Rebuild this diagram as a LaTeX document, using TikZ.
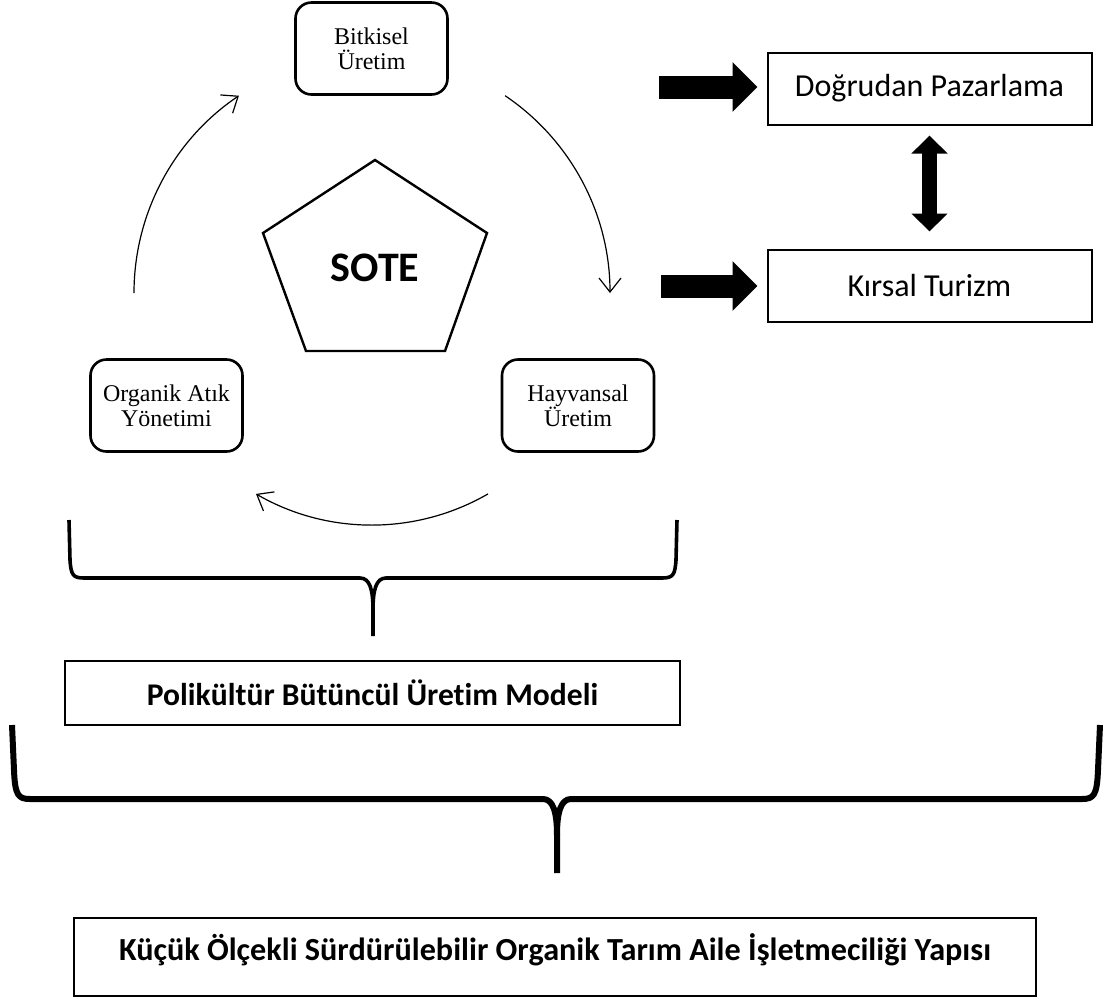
\documentclass[tikz,border=0pt]{standalone}
\usepackage{fontspec}
\setmainfont{Carlito}[Ligatures=NoCommon]
\newfontfamily\timesfont{Liberation Serif}
\usetikzlibrary{positioning}
\usetikzlibrary{arrows.meta}

\begin{document}
\begin{tikzpicture}[x=0.5pt,y=0.5pt,on grid,
	cyclebox/.style={draw,rounded corners=8pt,line width=1.3pt,minimum width=76pt,minimum height=46pt,inner sep=0pt,align=center,font=\timesfont\fontsize{12}{12.5}\selectfont},
	sidebox/.style={draw,line width=1pt,minimum width=162pt,minimum height=36pt,inner sep=0pt,font=\fontsize{16}{19}\selectfont},
	basebox/.style={draw,line width=1pt,inner sep=0pt,font=\bfseries\fontsize{15.8}{19}\selectfont},
	cyc/.style={line width=0.6pt,-{Straight Barb[length=7pt,width=11pt]}},
	bigarrow/.style={line width=11.5pt,-{Triangle[length=12.5pt,width=24pt]}},
	dblarrow/.style={line width=7.5pt,{Triangle[length=9pt,width=17.5pt]}-{Triangle[length=9pt,width=17.5pt]}},
	brace/.style={line width=#1,line join=round}]
		\useasboundingbox (0,0) rectangle (1105,-1003);
		
		\node[cyclebox] (bitki) at (371.5,-48.5) {Bitkisel\\Üretim};
		\node[cyclebox] (atik) at (166.5,-405.5) {Organik Atık\\Yönetimi};
		\node[cyclebox] (hayvan) [right=205.75pt of atik] {Hayvansal\\Üretim};
		
		\draw[line width=1.2pt] (375,-160) -- (487,-233) -- (445,-351) -- (306,-351) -- (263,-233) -- cycle;
		\node[font=\bfseries\fontsize{21}{25}\selectfont] (sote) at (375,-268) {SOTE};
		
		\node[sidebox] (dogru) at (929.5,-88.5) {Doğrudan Pazarlama};
		\node[sidebox] (kirsal) [below=98.5pt of dogru] {Kırsal Turizm};
		
		\node[basebox,minimum width=307.5pt,minimum height=32pt] (polik) at (372.5,-693) {Polikültür Bütüncül Üretim Modeli};
		\node[basebox,minimum width=481pt,minimum height=39pt,text height=11pt,text depth=7.8pt,font=\bfseries\fontsize{16.1}{19}\selectfont] (kucuk) at (555,-957) {Küçük Ölçekli Sürdürülebilir Organik Tarım Aile İşletmeciliği Yapısı};
		
		% cycle round SOTE
		\coordinate (hub) at (372,-293);
		\draw[cyc] ([shift={(180:238)}]hub) arc[start angle=180,end angle=124,radius=238];
		\draw[cyc] ([shift={(56:238)}]hub) arc[start angle=56,end angle=0,radius=238];
		\draw[cyc] ([shift={(-60:232)}]hub) arc[start angle=-60,end angle=-120,radius=232];
		
		\coordinate (pa) at (659,-87);
		\coordinate (pb) at (661,-286);
		\draw[bigarrow,shorten >=4.5pt] (pa) -- (pa -| dogru.west);
		\draw[bigarrow,shorten >=4.5pt] (pb) -- (pb -| kirsal.west);
		\draw[dblarrow,shorten <=5pt,shorten >=8.5pt] (dogru) -- (kirsal);
		
		% braces
		\draw[brace=1.8pt] (69,-520) -- (70,-560) .. controls (71,-575) and (73,-578) .. (84,-578) -- (360,-578) .. controls (370,-578) and (373,-590) .. (373,-610) -- (373,-636);
		\draw[brace=1.8pt] (677,-520) -- (676,-560) .. controls (675,-575) and (673,-578) .. (662,-578) -- (386,-578) .. controls (376,-578) and (373,-590) .. (373,-610);
		\draw[brace=3pt] (12,-725) -- (14,-770) .. controls (15,-795) and (18,-799) .. (30,-799) -- (543,-799) .. controls (553,-799) and (557,-812) .. (557,-835) -- (557,-873);
		\draw[brace=3pt] (1100,-725) -- (1098,-770) .. controls (1097,-795) and (1094,-799) .. (1082,-799) -- (571,-799) .. controls (561,-799) and (557,-812) .. (557,-835);
		%\draw[brace=3pt] (polik.south) -- (kucuk.north);
\end{tikzpicture}
\end{document}
